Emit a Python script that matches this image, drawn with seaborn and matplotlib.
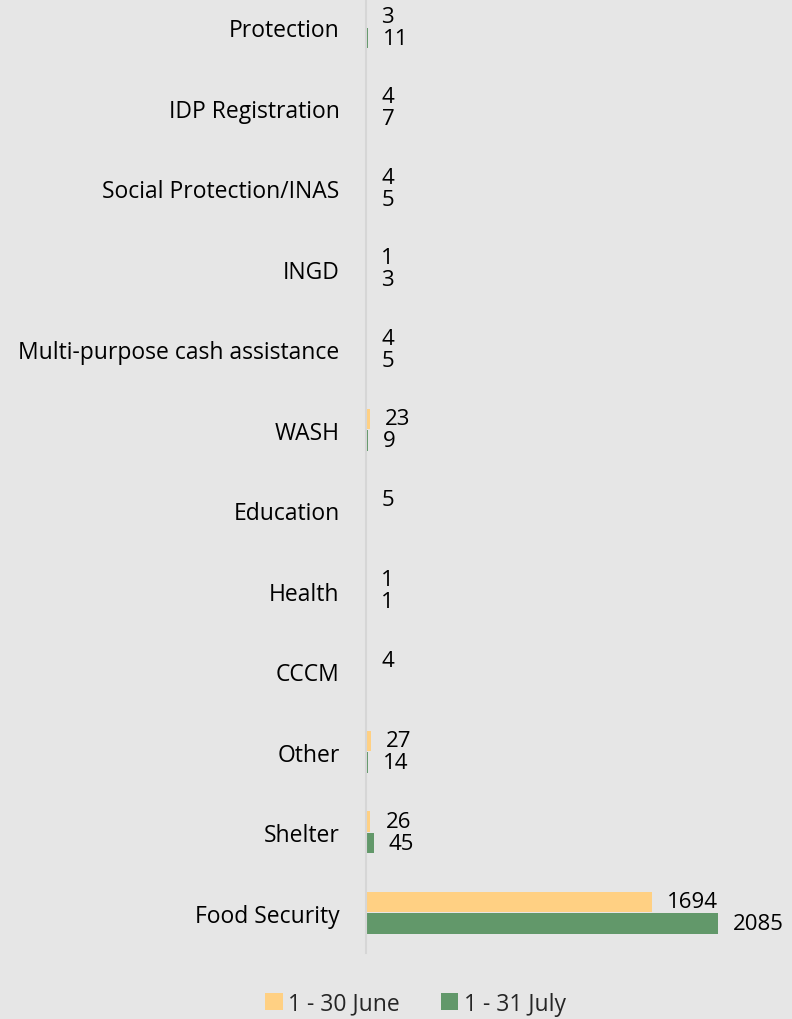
import numpy as np
import pandas as pd
import matplotlib
matplotlib.use("Agg")
import matplotlib.pyplot as plt
import seaborn as sns

categories = ["Protection", "IDP Registration", "Social Protection/INAS", "INGD",
              "Multi-purpose cash assistance", "WASH", "Education", "Health", "CCCM",
              "Other", "Shelter", "Food Security"]
june = [3, 4, 4, 1, 4, 23, 5, 1, 4, 27, 26, 1694]
july = [11, 7, 5, 3, 5, 9, np.nan, 1, np.nan, 14, 45, 2085]
series_names = ["1 - 30 June", "1 - 31 July"]
colors = ["#FFD083", "#62986A"]

df = pd.DataFrame({
    "Category": categories * 2,
    "Period": [series_names[0]] * len(categories) + [series_names[1]] * len(categories),
    "Value": june + july,
})

sns.set_theme(style="white")
plt.rcParams["font.family"] = ["Open Sans", "DejaVu Sans"]
bg = "#E6E6E6"

fig = plt.figure(figsize=(7.92, 10.2), dpi=100, facecolor=bg)
ax = fig.add_axes([366 / 792, 1 - 954 / 1020, 1 - 366 / 792, 954 / 1020])
ax.set_facecolor(bg)

sns.barplot(data=df, y="Category", x="Value", hue="Period", order=categories,
            hue_order=series_names, palette=colors, orient="h", width=0.54, gap=0.06,
            ax=ax, saturation=1, legend=True, linewidth=0)

ax.set_xlim(0, 2523)
ax.set_ylim(11.5, -0.5 + 12 / 80.5)
for s in ["top", "right", "bottom"]:
    ax.spines[s].set_visible(False)
ax.spines["left"].set_color("#D6D6D6")
ax.spines["left"].set_linewidth(1.5)
ax.set_xticks([])
ax.set_xlabel("")
ax.set_ylabel("")
ax.tick_params(axis="y", length=0, pad=19, labelsize=16.5, labelcolor="#000000")

for container in ax.containers:
    for bar in container:
        w = bar.get_width()
        if np.isnan(w) or w == 0:
            continue
        y = bar.get_y() + bar.get_height() / 2
        ax.annotate(f"{int(w)}", xy=(w, y), xytext=(15, 0), textcoords="offset pixels",
                    ha="left", va="center", fontsize=16, color="#000000")

handles, labels = ax.get_legend_handles_labels()
ax.get_legend().remove()
fig.legend(handles, labels, loc="lower center", bbox_to_anchor=(0.525, -0.017), ncol=2,
           frameon=False, fontsize=16.5, handlelength=0.75, handleheight=0.75,
           handletextpad=0.25, columnspacing=1.8)

fig.savefig("out.png", dpi=100, facecolor=bg)
